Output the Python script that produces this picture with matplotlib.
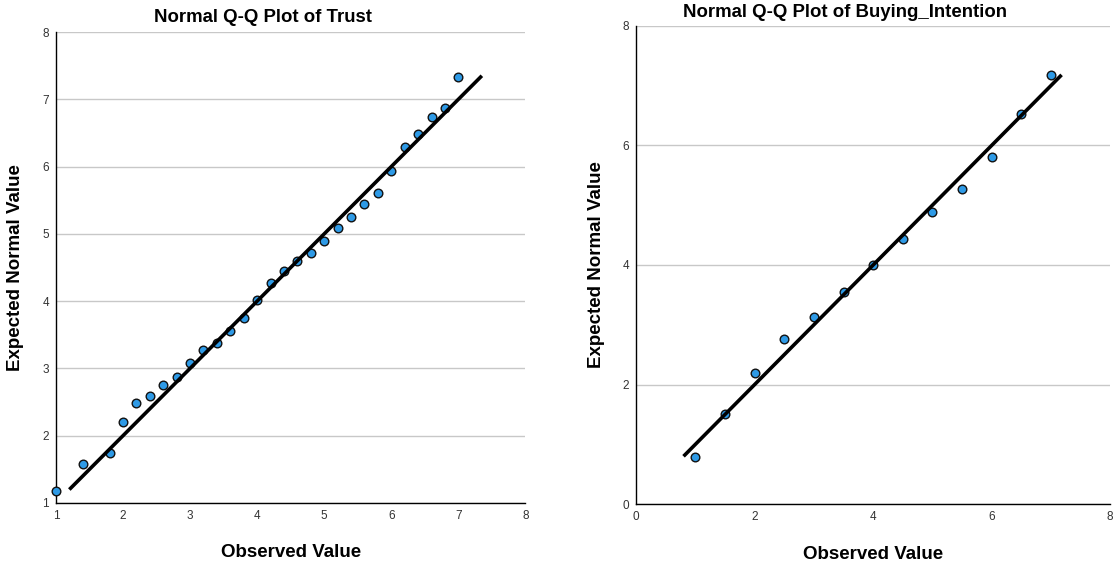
import matplotlib
matplotlib.use("Agg")
import matplotlib.pyplot as plt

plt.rcParams['font.family'] = ['Liberation Sans', 'DejaVu Sans']

# Trust
trust_observed = [1.0, 1.4, 1.8, 2.0, 2.2, 2.4, 2.6, 2.8, 3.0, 3.2, 3.4, 3.6, 3.8, 4.0,
                  4.2, 4.4, 4.6, 4.8, 5.0, 5.2, 5.4, 5.6, 5.8, 6.0, 6.2, 6.4, 6.6, 6.8, 7.0]
trust_expected = [1.18, 1.58, 1.75, 2.21, 2.49, 2.59, 2.76, 2.87, 3.08, 3.27, 3.38, 3.55, 3.75, 4.01,
                  4.27, 4.45, 4.59, 4.71, 4.90, 5.09, 5.25, 5.44, 5.61, 5.94, 6.29, 6.48, 6.73, 6.87, 7.33]
trust_line = [1.2, 7.35]
trust_ticks = [1, 2, 3, 4, 5, 6, 7, 8]

# Buying intention
buy_observed = [1.0, 1.5, 2.0, 2.5, 3.0, 3.5, 4.0, 4.5, 5.0, 5.5, 6.0, 6.5, 7.0]
buy_expected = [0.79, 1.50, 2.20, 2.76, 3.13, 3.55, 4.00, 4.43, 4.88, 5.27, 5.80, 6.53, 7.17]
buy_line = [0.8, 7.18]
buy_ticks = [0, 2, 4, 6, 8]

fig = plt.figure(figsize=(11.18, 5.62), dpi=100)
ax1 = fig.add_axes([0.050, 0.105, 0.420, 0.838])
ax2 = fig.add_axes([0.569, 0.103, 0.424, 0.851])

def style(ax, ticks, title, line, obs, exp, title_y, ylab_x):
    ax.plot(obs, exp, 'o', ms=6.2, mfc='#2e9ae6', mec='#111111', mew=1.0, zorder=3, clip_on=False)
    ax.plot(line, line, color='black', lw=2.6, zorder=4, solid_capstyle='butt')
    ax.set_xlim(ticks[0], ticks[-1])
    ax.set_ylim(ticks[0], ticks[-1])
    ax.set_xticks(ticks)
    ax.set_yticks(ticks)
    ax.tick_params(length=0, labelsize=8.5, labelcolor='#333333', pad=5)
    ax.grid(axis='y', color='#c8c8c8', lw=1)
    ax.set_axisbelow(True)
    for s in ['top', 'right']:
        ax.spines[s].set_visible(False)
    for s in ['left', 'bottom']:
        ax.spines[s].set_color('black')
        ax.spines[s].set_linewidth(1.0)
    ax.text(0.441, title_y, title, transform=ax.transAxes, ha='center', va='baseline',
            fontsize=13.4, fontweight='bold')
    xl = ax.set_xlabel('Observed Value', fontsize=13.5, fontweight='bold')
    xl.set_va('baseline')
    ax.xaxis.set_label_coords(0.5, -0.115)
    yl = ax.set_ylabel('Expected Normal Value', fontsize=13.5, fontweight='bold')
    yl.set_va('center')
    ax.yaxis.set_label_coords(ylab_x, 0.5)

style(ax1, trust_ticks, 'Normal Q-Q Plot of Trust', trust_line, trust_observed, trust_expected,
      1.021, -0.087)
style(ax2, buy_ticks, 'Normal Q-Q Plot of Buying_Intention', buy_line, buy_observed, buy_expected,
      1.019, -0.084)

fig.savefig('out.png', dpi=100, facecolor='white')
